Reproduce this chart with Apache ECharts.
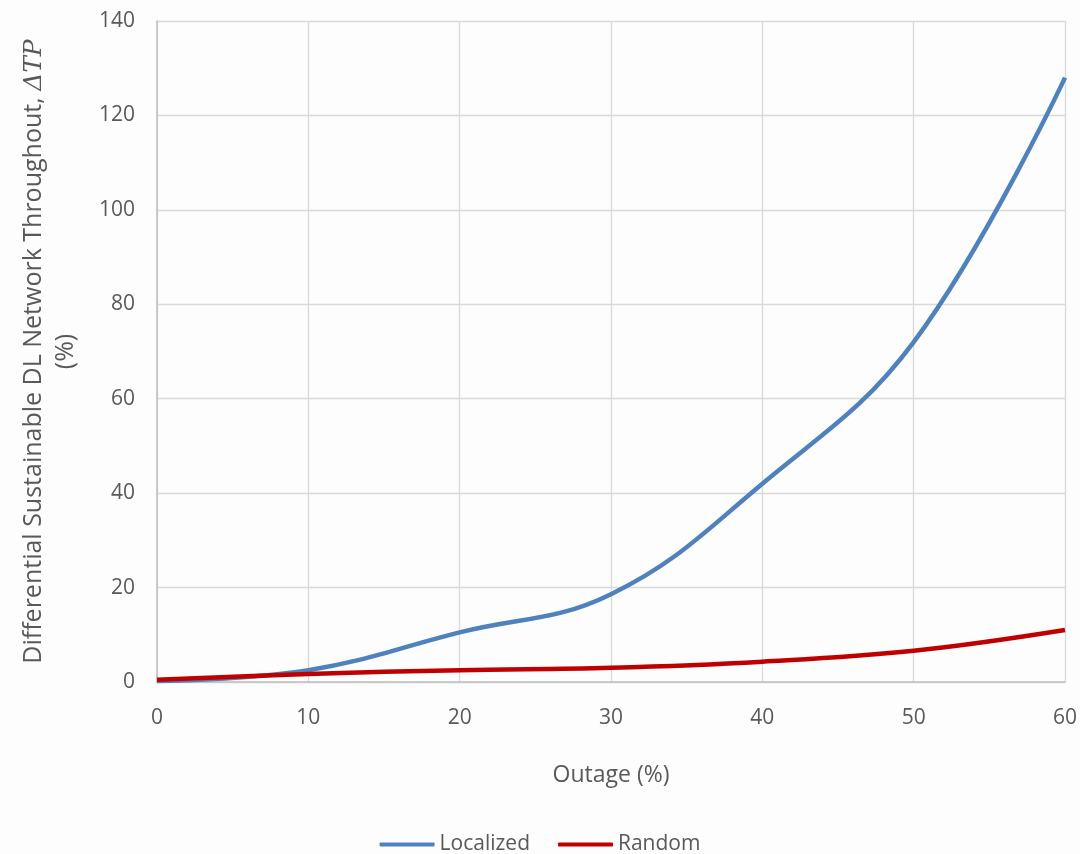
<!DOCTYPE html>
<html><head><meta charset="utf-8">
<script src="https://cdn.jsdelivr.net/npm/echarts@6/dist/echarts.min.js"></script>
<style>html,body{margin:0;padding:0;background:#fdfdfe;}#c{width:1080px;height:854px;}</style>
</head><body><div id="c"></div>
<script>
const outage = [0, 10, 20, 30, 40, 50, 60];
const localized = [0.2, 2.5, 10.5, 18.6, 42, 72, 128];
const random = [0.5, 1.7, 2.5, 3.0, 4.3, 6.6, 11];
const seriesNames = ['Localized', 'Random'];

const chart = echarts.init(document.getElementById('c'));
const font = '"Open Sans", "Liberation Sans", sans-serif';
const txt = '#595959';
chart.setOption({
  backgroundColor: '#fdfdfe',
  animation: false,
  textStyle: { fontFamily: font },
  grid: { left: 157, right: 15, top: 21, bottom: 172, containLabel: false, outerBoundsMode: 'none' },
  legend: {
    top: 829, left: 'center',
    itemWidth: 55, itemHeight: 4, itemGap: 28,
    icon: 'roundRect',
    textStyle: { color: txt, fontSize: 21, fontFamily: font },
    data: seriesNames
  },
  xAxis: {
    type: 'value', min: 0, max: 60, interval: 10,
    name: 'Outage (%)', nameLocation: 'middle', nameGap: 82,
    nameTextStyle: { color: txt, fontSize: 23, fontFamily: font },
    axisLine: { show: true, lineStyle: { color: '#bfbfbf', width: 1.5 } },
    axisTick: { show: false },
    axisLabel: { color: txt, fontSize: 21, margin: 26 },
    splitLine: { show: true, lineStyle: { color: '#d9d9d9', width: 1.3 } }
  },
  yAxis: {
    type: 'value', min: 0, max: 140, interval: 20,
    name: '{a|Differential Sustainable DL Network Throughout, }{b|ΔTP}\n{a|(%)}',
    nameLocation: 'middle', nameGap: 75, nameRotate: 90,
    nameTextStyle: {
      color: txt, fontSize: 25, lineHeight: 32,
      rich: {
        a: { color: txt, fontSize: 25, fontFamily: font, lineHeight: 32 },
        b: { color: txt, fontSize: 25, fontFamily: '"DejaVu Serif", serif', fontStyle: 'italic', lineHeight: 32 }
      }
    },
    axisLine: { show: true, lineStyle: { color: '#bfbfbf', width: 1.5 } },
    axisTick: { show: false },
    axisLabel: { color: txt, fontSize: 21, margin: 22 },
    splitLine: { show: true, lineStyle: { color: '#d9d9d9', width: 1.3 } }
  },
  series: [
    {
      name: seriesNames[0], type: 'line', smooth: 0.4, showSymbol: false,
      data: outage.map((x, i) => [x, localized[i]]),
      lineStyle: { color: '#4f81bd', width: 4.5 }, itemStyle: { color: '#4f81bd' }
    },
    {
      name: seriesNames[1], type: 'line', smooth: 0.4, showSymbol: false,
      data: outage.map((x, i) => [x, random[i]]),
      lineStyle: { color: '#c00000', width: 4.5 }, itemStyle: { color: '#c00000' }
    }
  ]
});
</script></body></html>
